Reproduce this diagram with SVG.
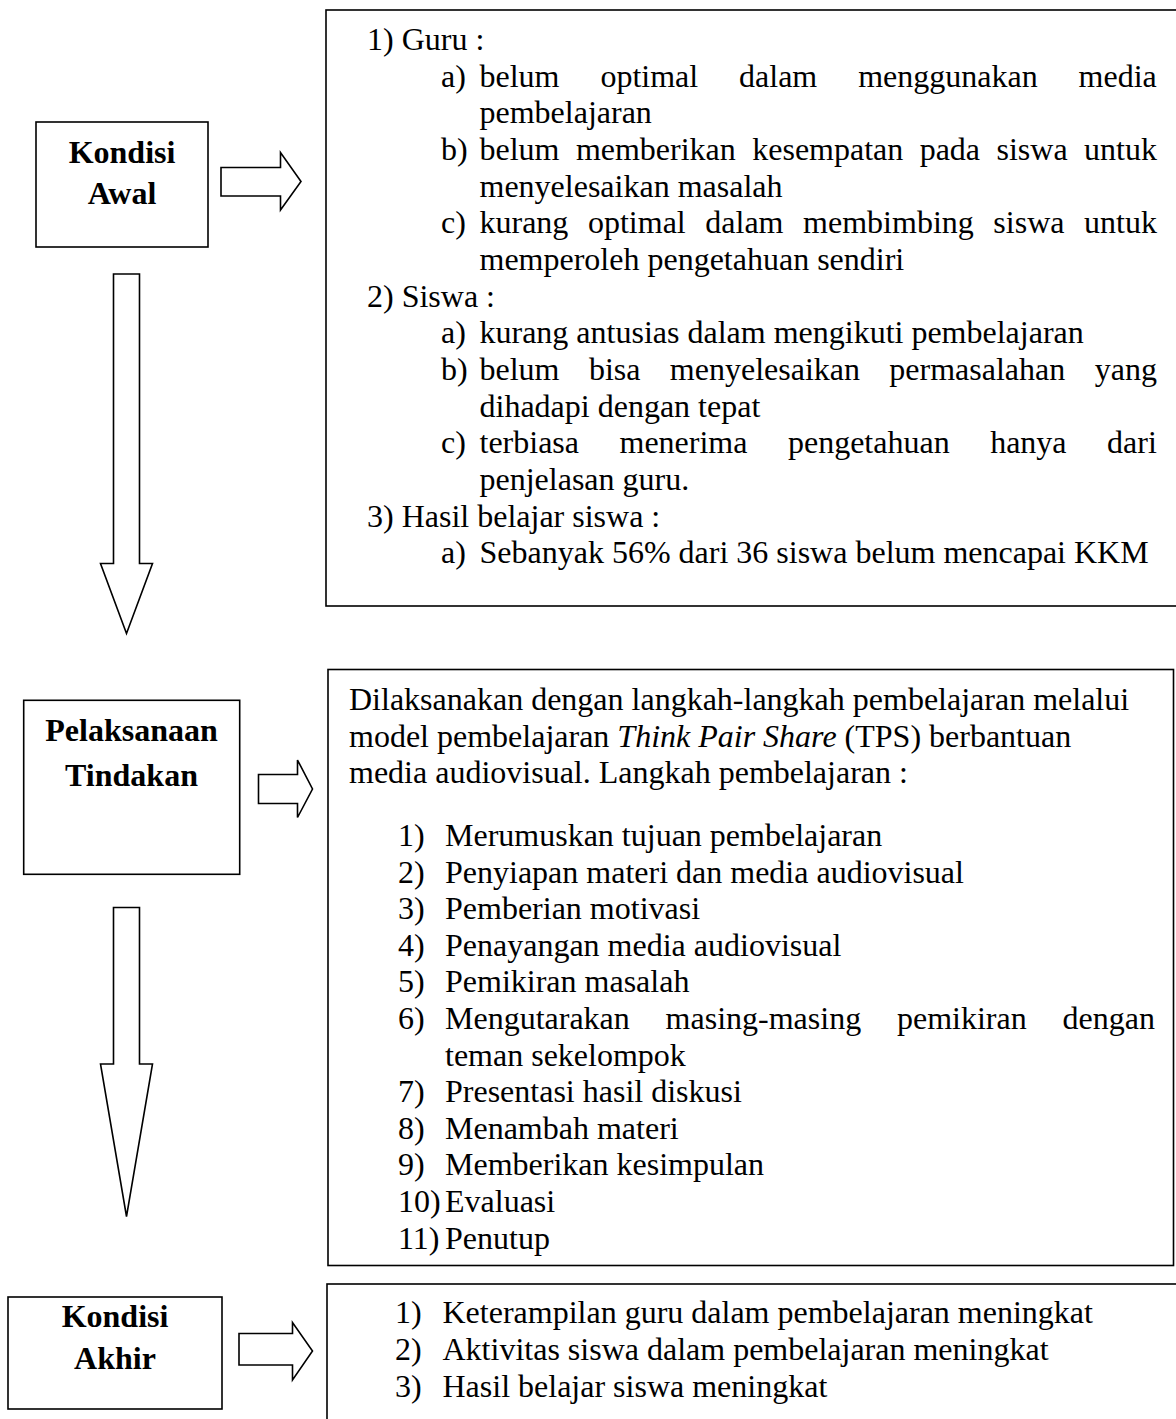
<svg xmlns="http://www.w3.org/2000/svg" width="1176" height="1419" viewBox="0 0 1176 1419">
<style>
text{font-family:"Liberation Serif","Times New Roman",serif;font-size:32px;fill:#000}
.b{font-weight:bold;text-anchor:middle}
.box{fill:#fff;stroke:#000;stroke-width:1.6}
.arr{fill:#fff;stroke:#000;stroke-width:1.6;stroke-linejoin:miter}
</style>
<rect width="1176" height="1419" fill="#fff"/>
<g id="connectors">
<polygon class="arr" points="221,167.5 280.5,167.5 280.5,152.5 301,181.5 280.5,210 280.5,196 221,196"/>
<polygon class="arr" points="113.5,274 139.5,274 139.5,563.5 152.5,563.5 126.5,633.5 100.5,563.5 113.5,563.5"/>
<polygon class="arr" points="258.5,774.5 297.5,774.5 297.5,760 312.5,789 297.5,817.5 297.5,803.5 258.5,803.5"/>
<polygon class="arr" points="113.5,907.5 139.5,907.5 139.5,1064 152.5,1064 126.5,1216.5 100.5,1064 113.5,1064"/>
<polygon class="arr" points="239,1333.5 292.5,1333.5 292.5,1322.5 312.5,1351 292.5,1380 292.5,1365 239,1365"/>
</g>
<g id="kondisi-awal">
<rect class="box" x="36" y="122" width="172" height="125"/>
<text class="b" x="122" y="163">Kondisi</text>
<text class="b" x="122" y="204">Awal</text>
</g>
<g id="kondisi-awal-detail">
<rect class="box" x="326" y="10" width="870" height="596"/>
<text x="367" y="50">1) Guru :</text>
<text x="441" y="86.7">a)</text>
<text x="479.5" y="86.7" word-spacing="32.9">belum optimal dalam menggunakan media</text>
<text x="479.5" y="123.3">pembelajaran</text>
<text x="441" y="160">b)</text>
<text x="479.5" y="160" word-spacing="8.4">belum memberikan kesempatan pada siswa untuk</text>
<text x="479.5" y="196.6">menyelesaikan masalah</text>
<text x="441" y="233.3">c)</text>
<text x="479.5" y="233.3" word-spacing="11.6">kurang optimal dalam membimbing siswa untuk</text>
<text x="479.5" y="270">memperoleh pengetahuan sendiri</text>
<text x="367" y="306.6">2) Siswa :</text>
<text x="441" y="343.3">a)</text>
<text x="479.5" y="343.3">kurang antusias dalam mengikuti pembelajaran</text>
<text x="441" y="380">b)</text>
<text x="479.5" y="380" word-spacing="21.4">belum bisa menyelesaikan permasalahan yang</text>
<text x="479.5" y="416.6">dihadapi dengan tepat</text>
<text x="441" y="453.3">c)</text>
<text x="479.5" y="453.3" word-spacing="32.5">terbiasa menerima pengetahuan hanya dari</text>
<text x="479.5" y="490">penjelasan guru.</text>
<text x="367" y="526.6">3) Hasil belajar siswa :</text>
<text x="441" y="563.3">a)</text>
<text x="479.5" y="563.3">Sebanyak 56% dari 36 siswa belum mencapai KKM</text>
</g>
<g id="pelaksanaan-tindakan">
<rect class="box" x="23.7" y="700.3" width="216" height="174"/>
<text class="b" x="131.5" y="741">Pelaksanaan</text>
<text class="b" x="131.5" y="786">Tindakan</text>
</g>
<g id="pelaksanaan-detail">
<rect class="box" x="328" y="669.5" width="845.5" height="596"/>
<text x="349" y="710">Dilaksanakan dengan langkah-langkah pembelajaran melalui</text>
<text x="349" y="746.5">model pembelajaran <tspan font-style="italic">Think Pair Share</tspan> (TPS) berbantuan</text>
<text x="349" y="783">media audiovisual. Langkah pembelajaran :</text>
<text x="398" y="846">1)</text><text x="445" y="846">Merumuskan tujuan pembelajaran</text>
<text x="398" y="882.6">2)</text><text x="445" y="882.6">Penyiapan materi dan media audiovisual</text>
<text x="398" y="919.2">3)</text><text x="445" y="919.2">Pemberian motivasi</text>
<text x="398" y="955.8">4)</text><text x="445" y="955.8">Penayangan media audiovisual</text>
<text x="398" y="992.4">5)</text><text x="445" y="992.4">Pemikiran masalah</text>
<text x="398" y="1029">6)</text><text x="445" y="1029" word-spacing="27.8">Mengutarakan masing-masing pemikiran dengan</text>
<text x="445" y="1065.6">teman sekelompok</text>
<text x="398" y="1102.2">7)</text><text x="445" y="1102.2">Presentasi hasil diskusi</text>
<text x="398" y="1138.8">8)</text><text x="445" y="1138.8">Menambah materi</text>
<text x="398" y="1175.4">9)</text><text x="445" y="1175.4">Memberikan kesimpulan</text>
<text x="398" y="1212">10)</text><text x="445" y="1212">Evaluasi</text>
<text x="398" y="1248.6">11)</text><text x="445" y="1248.6">Penutup</text>
</g>
<g id="kondisi-akhir">
<rect class="box" x="8" y="1297" width="214" height="112"/>
<text class="b" x="115" y="1327">Kondisi</text>
<text class="b" x="115" y="1369">Akhir</text>
</g>
<g id="kondisi-akhir-detail">
<rect class="box" x="327" y="1284" width="870" height="160"/>
<text x="395" y="1323.3">1)</text><text x="442.5" y="1323.3">Keterampilan guru dalam pembelajaran meningkat</text>
<text x="395" y="1360">2)</text><text x="442.5" y="1360">Aktivitas siswa dalam pembelajaran meningkat</text>
<text x="395" y="1396.6">3)</text><text x="442.5" y="1396.6">Hasil belajar siswa meningkat</text>
</g>
</svg>
